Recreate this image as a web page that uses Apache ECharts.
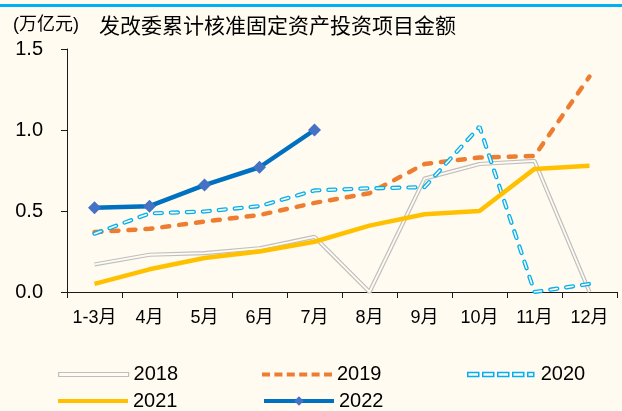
<!DOCTYPE html>
<html>
<head>
<meta charset="utf-8">
<script src="https://cdn.jsdelivr.net/npm/echarts@6/dist/echarts.min.js"></script>
<style>
html,body{margin:0;padding:0;background:#FFFBF0;}
#chart{width:622px;height:411px;}
</style>
</head>
<body>
<div id="chart"></div>
<script>
const categories = ['1-3月','4月','5月','6月','7月','8月','9月','10月','11月','12月'];
const yTicks = [0, 0.5, 1.0, 1.5];
const unitLabel = '(万亿元)';
const titleText = '发改委累计核准固定资产投资项目金额';
const s2018 = [0.17, 0.23, 0.24, 0.27, 0.34, 0.00, 0.70, 0.79, 0.81, 0.00];
const s2019 = [0.37, 0.39, 0.435, 0.475, 0.55, 0.61, 0.79, 0.83, 0.84, 1.33];
const s2020 = [0.36, 0.485, 0.497, 0.53, 0.627, 0.64, 0.647, 1.02, 0.00, 0.05];
const s2021 = [0.05, 0.14, 0.21, 0.25, 0.31, 0.41, 0.48, 0.50, 0.76, 0.78];
const s2022 = [0.52, 0.53, 0.66, 0.77, 1.00, null, null, null, null, null];

const BG = '#FFFBF0';
const FONT = '"Liberation Sans", Arial, "Noto Sans CJK SC", sans-serif';

const chart = echarts.init(document.getElementById('chart'), null, {renderer: 'canvas'});

function lg(name, left, top, extra) {
  return Object.assign({
    show: true, left: left, top: top, orient: 'horizontal',
    itemWidth: 70, itemHeight: 4, itemGap: 0, padding: 0,
    selectedMode: false,
    textStyle: {fontSize: 20, color: '#000', fontFamily: FONT},
    data: [name]
  }, extra || {});
}

const option = {
  animation: false,
  backgroundColor: BG,
  title: [
    {text: unitLabel, left: 13, top: 16, padding: 0,
     textStyle: {fontSize: 18, fontWeight: 'normal', color: '#000', fontFamily: FONT}},
    {text: titleText, left: 99, top: 15, padding: 0,
     textStyle: {fontSize: 21, fontWeight: 'normal', color: '#000', fontFamily: '"Noto Sans CJK SC", sans-serif'}}
  ],
  graphic: [
    {type: 'rect', left: 0, top: 4, shape: {width: 622, height: 3}, style: {fill: '#00B0F0'}, silent: true}
  ],
  legend: [
    lg({name: '2018', icon: 'path://M0,0H70V4H0Z', itemStyle: {color: BG, borderColor: '#BFBFBF', borderWidth: 1.2}}, 58, 364.5),
    lg({name: '2019', icon: 'path://M0,0h8v4h-8z M12.4,0h8v4h-8z M24.8,0h8v4h-8z M37.2,0h8v4h-8z M49.6,0h8v4h-8z M62,0h8v4h-8z',
        itemStyle: {color: '#ED7D31', borderWidth: 0}}, 262, 364.5),
    lg({name: '2020', icon: 'path://M0,0h11v4h-11z M15,0h11v4h-11z M30,0h11v4h-11z M45,0h11v4h-11z M60,0h6v4h-6z',
        itemStyle: {color: BG, borderColor: '#00B0F0', borderWidth: 1.5}}, 467, 364.5),
    lg({name: '2021', icon: 'path://M0,0H70V4H0Z', itemStyle: {color: '#FFC000', borderWidth: 0}}, 58, 391),
    lg({name: '2022', lineStyle: {width: 4, color: '#0070C0'}, itemStyle: {color: '#4472C4'}}, 262, 391, {itemHeight: 12})
  ],
  grid: {left: 67, right: 5, top: 49, bottom: 119, containLabel: false},
  xAxis: {
    type: 'category', data: categories, boundaryGap: true,
    axisLine: {show: true, lineStyle: {color: '#1a1a1a', width: 1}},
    axisTick: {show: true, length: 6, interval: 0, lineStyle: {color: '#1a1a1a'}},
    axisLabel: {interval: 0, margin: 17, fontSize: 18, color: '#000', fontFamily: FONT},
    splitLine: {show: false}
  },
  yAxis: {
    type: 'value', min: yTicks[0], max: yTicks[yTicks.length - 1], interval: yTicks[1] - yTicks[0],
    axisLine: {show: true, lineStyle: {color: '#1a1a1a', width: 1}},
    axisTick: {show: true, length: 6, lineStyle: {color: '#1a1a1a'}},
    axisLabel: {margin: 24, fontSize: 20, color: '#000', fontFamily: FONT, formatter: v => v.toFixed(1)},
    splitLine: {show: false}
  },
  series: [
    {name: '2018', type: 'line', data: s2018, symbol: 'none', color: '#BFBFBF',
     lineStyle: {color: '#BFBFBF', width: 4.2}},
    {name: '2018_inner', type: 'line', data: s2018, symbol: 'none', color: BG,
     lineStyle: {color: BG, width: 1.8}},
    {name: '2019', type: 'line', data: s2019, symbol: 'none', color: '#ED7D31',
     lineStyle: {color: '#ED7D31', width: 4.5, type: [7, 10], cap: 'round'}},
    {name: '2020', type: 'line', data: s2020, symbol: 'none', color: '#00B0F0',
     lineStyle: {color: '#00B0F0', width: 4.2, type: [7, 9], cap: 'round'}},
    {name: '2020_inner', type: 'line', data: s2020, symbol: 'none', color: BG,
     lineStyle: {color: BG, width: 1.6, type: [7, 9], cap: 'round'}},
    {name: '2021', type: 'line', data: s2021, symbol: 'none', color: '#FFC000',
     lineStyle: {color: '#FFC000', width: 4.5}},
    {name: '2022', type: 'line', data: s2022, symbol: 'diamond', symbolSize: 13, showSymbol: true,
     color: '#0070C0', itemStyle: {color: '#4472C4'},
     lineStyle: {color: '#0070C0', width: 4.5}, connectNulls: false}
  ]
};
chart.setOption(option);
</script>
</body>
</html>
